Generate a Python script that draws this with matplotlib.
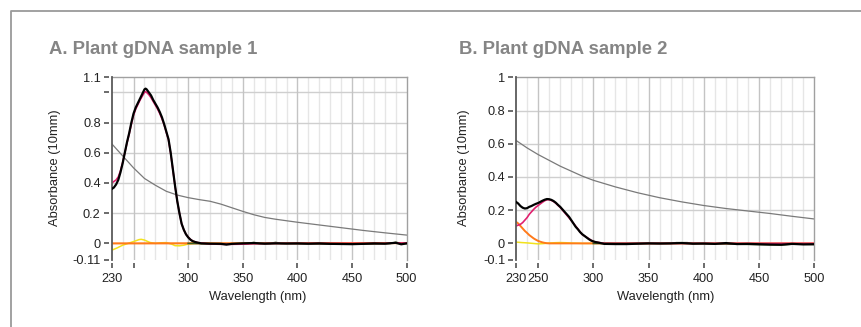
import matplotlib
matplotlib.use("Agg")
import matplotlib.pyplot as plt
import numpy as np
from matplotlib.lines import Line2D

plt.rcParams['font.family'] = ['Liberation Sans', 'DejaVu Sans']

# ---------------- Panel A data ----------------
a_title = "A. Plant gDNA sample 1"
a_xticks = [230, 250, 300, 350, 400, 450, 500]
a_xticklabels = ["230", "", "300", "350", "400", "450", "500"]
a_yticks = [-0.11, 0, 0.2, 0.4, 0.6, 0.8, 1.0, 1.1]
a_yticklabels = ["-0.11", "0", "0.2", "0.4", "0.6", "0.8", "", "1.1"]

a_gray_wl = [230, 240, 250, 260, 270, 280, 290, 300, 310, 320, 330, 340, 350,
             360, 370, 380, 390, 400, 420, 440, 460, 480, 500]
a_gray = [0.66, 0.58, 0.50, 0.43, 0.385, 0.345, 0.32, 0.303, 0.29, 0.279, 0.26,
          0.236, 0.212, 0.19, 0.172, 0.16, 0.15, 0.14, 0.122, 0.104, 0.086, 0.07, 0.055]

a_black_wl = [230, 232, 234, 236, 238, 240, 242, 244, 246, 248, 250, 252, 254, 256,
              258, 260, 261, 262, 264, 266, 268, 270, 272, 274, 276, 278, 280, 282,
              284, 286, 288, 290, 292, 294, 296, 298, 300, 302, 304, 306, 308, 310,
              312, 320, 330, 335, 340, 350, 360, 370, 380, 390, 400, 410, 420, 430,
              440, 450, 460, 470, 480, 490, 495, 500]
a_black = [0.36, 0.37, 0.39, 0.42, 0.47, 0.53, 0.60, 0.67, 0.73, 0.80, 0.86, 0.90,
           0.93, 0.96, 0.99, 1.02, 1.025, 1.02, 1.00, 0.98, 0.95, 0.925, 0.90, 0.87,
           0.835, 0.79, 0.74, 0.69, 0.60, 0.49, 0.38, 0.28, 0.20, 0.13, 0.09, 0.06,
           0.04, 0.025, 0.015, 0.01, 0.006, 0.003, 0.0, -0.002, -0.003, -0.008, -0.003,
           0.0, 0.002, -0.002, 0.0, -0.001, 0.0, -0.002, 0.0, -0.003, -0.004, -0.005,
           -0.003, 0.0, -0.002, 0.004, -0.006, 0.0]

a_pink_wl = [230, 232, 234, 236, 238, 240, 242, 244, 246, 248, 250, 252, 254, 256,
             258, 260, 261, 262, 264, 266, 268, 270, 272, 274, 276, 278, 280, 282,
             284, 286, 288, 290, 292, 294, 296, 298, 300, 302, 304, 306, 308, 310,
             320, 330, 340, 350, 360, 380, 400, 440, 480, 490, 500]
a_pink = [0.40, 0.41, 0.42, 0.44, 0.48, 0.535, 0.60, 0.665, 0.725, 0.79, 0.85, 0.89,
          0.92, 0.95, 0.975, 1.0, 1.005, 1.0, 0.985, 0.965, 0.94, 0.915, 0.89, 0.86,
          0.825, 0.785, 0.735, 0.685, 0.595, 0.487, 0.378, 0.28, 0.2, 0.13, 0.09, 0.06,
          0.042, 0.027, 0.017, 0.011, 0.007, 0.004, -0.004, -0.006, -0.006, -0.005,
          -0.002, 0.0, 0.0, 0.0, 0.0, 0.003, 0.002]

a_green_wl = [300, 320, 340, 355, 360, 365, 375, 380, 385, 400, 440, 470, 485, 490, 495, 500]
a_green = [0.0, -0.002, -0.003, 0.0, 0.006, 0.0, 0.0, 0.006, 0.0, -0.002, -0.005,
           -0.004, 0.0, 0.007, 0.0, 0.0]

a_yellow_wl = [230, 235, 240, 245, 250, 255, 257, 260, 265, 270, 275, 280, 285,
               288, 292, 296, 300, 305]
a_yellow = [-0.045, -0.03, -0.012, 0.0, 0.012, 0.025, 0.027, 0.022, 0.006, 0.0,
            0.004, 0.005, -0.005, -0.015, -0.016, -0.012, -0.004, 0.0]

a_orange_wl = [230, 500]
a_orange = [0.0, 0.002]

# ---------------- Panel B data ----------------
b_title = "B. Plant gDNA sample 2"
b_xticks = [230, 250, 300, 350, 400, 450, 500]
b_xticklabels = ["230", "250", "300", "350", "400", "450", "500"]
b_yticks = [-0.1, 0, 0.2, 0.4, 0.6, 0.8, 1.0]
b_yticklabels = ["-0.1", "0", "0.2", "0.4", "0.6", "0.8", "1"]

b_gray_wl = [230, 240, 250, 260, 270, 280, 290, 300, 320, 340, 360, 380, 400, 420,
             440, 460, 480, 500]
b_gray = [0.62, 0.575, 0.535, 0.50, 0.465, 0.435, 0.405, 0.38, 0.34, 0.305, 0.275,
          0.25, 0.228, 0.21, 0.195, 0.18, 0.163, 0.147]

b_black_wl = [230, 232, 234, 236, 238, 240, 242, 244, 246, 248, 250, 252, 254, 256,
              258, 260, 262, 264, 266, 268, 270, 272, 274, 276, 278, 280, 282, 284,
              286, 288, 290, 292, 294, 296, 298, 300, 302, 305, 310, 320, 330, 340,
              350, 360, 370, 380, 390, 400, 410, 420, 430, 440, 450, 460, 470, 480,
              490, 500]
b_black = [0.25, 0.24, 0.225, 0.215, 0.21, 0.212, 0.22, 0.225, 0.232, 0.238, 0.243,
           0.25, 0.257, 0.263, 0.267, 0.266, 0.262, 0.255, 0.245, 0.232, 0.22, 0.205,
           0.19, 0.175, 0.16, 0.14, 0.12, 0.10, 0.085, 0.068, 0.055, 0.045, 0.035,
           0.025, 0.017, 0.012, 0.008, 0.004, -0.003, -0.004, -0.004, -0.002, 0.0,
           -0.001, 0.0, 0.002, -0.002, -0.001, -0.003, 0.002, -0.004, -0.003, -0.005,
           -0.007, -0.008, -0.003, -0.006, -0.005]

b_pink_wl = [230, 232, 234, 236, 238, 240, 242, 244, 246, 248, 250, 252, 254, 256,
             258, 260, 262, 264, 266, 268, 270, 280, 290, 300, 310, 350, 400, 450, 500]
b_pink = [0.105, 0.11, 0.115, 0.125, 0.14, 0.155, 0.175, 0.19, 0.205, 0.218, 0.228,
          0.238, 0.248, 0.257, 0.263, 0.263, 0.259, 0.252, 0.242, 0.229, 0.217, 0.138,
          0.053, 0.011, 0.0, 0.0, 0.0, 0.0, 0.0]

b_orange_wl = [230, 232, 234, 236, 238, 240, 242, 244, 246, 248, 250, 252, 254, 256,
               258, 260, 500]
b_orange = [0.13, 0.12, 0.105, 0.09, 0.075, 0.063, 0.05, 0.04, 0.03, 0.022, 0.015,
            0.01, 0.006, 0.003, 0.001, 0.0, 0.0]

b_yellow_wl = [230, 235, 240, 245, 250, 255, 260, 265, 270, 275, 280, 290, 300]
b_yellow = [0.008, 0.005, 0.003, 0.0, -0.003, -0.001, 0.002, 0.004, 0.005, 0.004,
            0.002, 0.0, 0.0]

b_green_wl = [300, 370, 375, 385, 390, 470, 480, 500]
b_green = [0.0, 0.0, 0.004, 0.004, 0.0, -0.009, -0.004, -0.006]

# ---------------- styling ----------------
C_GRAY = "#7a7a7a"
C_BLACK = "#000000"
C_PINK = "#e0206e"
C_ORANGE = "#ff7a1a"
C_YELLOW = "#f2e21c"
C_GREEN = "#3d5a1e"

W, H = 862, 327
fig = plt.figure(figsize=(W / 100, H / 100), dpi=100)
fig.patch.set_facecolor("white")

# outer gray frame (top + left)
fig.add_artist(Line2D([11 / W, 11 / W, 1.0], [0.0, 1 - 11 / H, 1 - 11 / H],
                      transform=fig.transFigure, color="#9a9a9a", lw=1.3))


def px(x0, y0, x1, y1):
    return [x0 / W, 1 - y1 / H, (x1 - x0) / W, (y1 - y0) / H]


def make_panel(rect, ylim, xticks, xtl, yticks, ytl, hgrid, series):
    ax = fig.add_axes(rect)
    ax.set_xlim(230, 500)
    ax.set_ylim(*ylim)
    # grid
    for v in np.arange(240, 500, 10):
        major = (v % 50 == 0)
        ax.axvline(v, color="#c4c4c4" if major else "#e6e6e6",
                   lw=1.0, zorder=0.5 if major else 0.3)
    for v in hgrid:
        ax.axhline(v, color="#cfcfcf", lw=1.0, zorder=0.4)
    # series
    for wl, vals, col, lw, z in series:
        ax.plot(wl, vals, color=col, lw=lw, zorder=z, solid_joinstyle="round")
    # spines
    ax.spines["top"].set_color("#a0a0a0")
    ax.spines["right"].set_color("#a0a0a0")
    ax.spines["top"].set_linewidth(1.0)
    ax.spines["right"].set_linewidth(1.0)
    ax.spines["bottom"].set_position(("outward", 2.3))
    ax.spines["left"].set_position(("outward", 2.3))
    ax.spines["bottom"].set_visible(False)
    ax.spines["left"].set_visible(False)
    ax.plot([0, 0], [0, 1], transform=ax.transAxes, color="#5a5a5a", lw=1.3,
            clip_on=False, zorder=5)
    ax.set_xticks(xticks)
    ax.set_xticklabels(xtl)
    ax.set_yticks(yticks)
    ax.set_yticklabels(ytl)
    ax.tick_params(axis="both", direction="out", length=3.6, width=1.1,
                   color="#444444", labelsize=9.2, labelcolor="#222222")
    ax.tick_params(axis="x", pad=3.2)
    ax.tick_params(axis="y", pad=2.0)
    return ax


axA = make_panel(px(111.7, 77.3, 406.7, 260), (-0.11, 1.1), a_xticks, a_xticklabels,
                 a_yticks, a_yticklabels, [0.2, 0.4, 0.6, 0.8, 1.0],
                 [(a_gray_wl, a_gray, C_GRAY, 0.9, 2),
                  (a_yellow_wl, a_yellow, C_YELLOW, 1.1, 3),
                  (a_orange_wl, a_orange, C_ORANGE, 1.5, 4),
                  (a_green_wl, a_green, C_GREEN, 1.2, 4.5),
                  (a_pink_wl, a_pink, C_PINK, 1.2, 5),
                  (a_black_wl, a_black, C_BLACK, 1.6, 6)])

axB = make_panel(px(516, 77.3, 814.3, 260), (-0.1, 1.0), b_xticks, b_xticklabels,
                 b_yticks, b_yticklabels, [0.2, 0.4, 0.6, 0.8],
                 [(b_gray_wl, b_gray, C_GRAY, 0.9, 2),
                  (b_yellow_wl, b_yellow, C_YELLOW, 1.1, 3),
                  (b_orange_wl, b_orange, C_ORANGE, 1.4, 4),
                  (b_green_wl, b_green, C_GREEN, 1.2, 4.5),
                  (b_pink_wl, b_pink, C_PINK, 1.2, 5),
                  (b_black_wl, b_black, C_BLACK, 1.6, 6)])

# titles and axis labels
title_kw = dict(fontsize=13.3, fontweight="bold", color="#858585", va="center", ha="left")
fig.text(49 / W, 1 - 49 / H, a_title, **title_kw)
fig.text(459 / W, 1 - 49 / H, b_title, **title_kw)

lab_kw = dict(fontsize=9.3, color="#222222", ha="center", va="center")
fig.text(55 / W, 1 - 167.5 / H, "Absorbance (10mm)", rotation=90, **lab_kw)
fig.text(464 / W, 1 - 167.5 / H, "Absorbance (10mm)", rotation=90, **lab_kw)
fig.text(258 / W, 1 - 297 / H, "Wavelength (nm)", **lab_kw)
fig.text(666 / W, 1 - 297 / H, "Wavelength (nm)", **lab_kw)

fig.savefig("out.png", dpi=100, facecolor="white")
